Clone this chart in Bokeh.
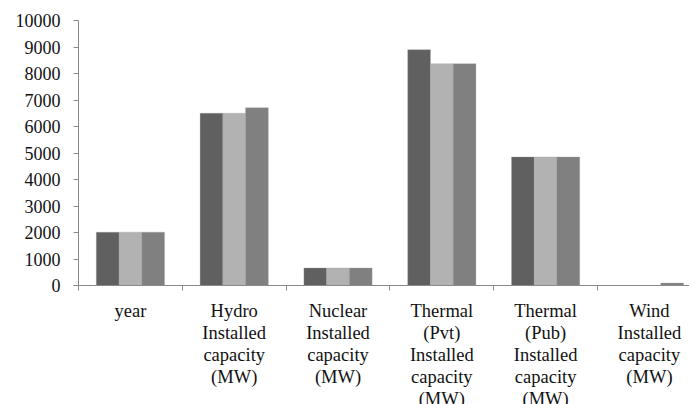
from bokeh.plotting import figure
from bokeh.models import Range1d, FixedTicker, NumeralTickFormatter
from bokeh.embed import file_html
from bokeh.resources import INLINE

# Category labels (multi-line) and the three series of values
categories = [
    "year",
    "Hydro\nInstalled\ncapacity\n(MW)",
    "Nuclear\nInstalled\ncapacity\n(MW)",
    "Thermal\n(Pvt)\nInstalled\ncapacity\n(MW)",
    "Thermal\n(Pub)\nInstalled\ncapacity\n(MW)",
    "Wind\nInstalled\ncapacity\n(MW)",
]
series_1 = [2010, 6500, 660, 8900, 4850, 0]
series_2 = [2011, 6500, 660, 8370, 4850, 0]
series_3 = [2012, 6710, 660, 8370, 4850, 90]
y_ticks = list(range(0, 10001, 1000))

colors = ["#606060", "#b2b2b2", "#808080"]
axis_color = "#8a8a8a"
font = "'Liberation Serif', 'Times New Roman', serif"

centers = [i + 0.5 for i in range(len(categories))]
bar_w = 0.219
offsets = [-bar_w, 0.0, bar_w]

p = figure(
    width=689, height=411,
    x_range=Range1d(0, 5.886), y_range=Range1d(0, 10000),
    output_backend="svg", toolbar_location=None,
    min_border_left=78, min_border_right=0,
    min_border_top=20, min_border_bottom=119,
)
p.outline_line_color = None
p.xgrid.visible = False
p.ygrid.visible = False

for vals, off, col in zip([series_1, series_2, series_3], offsets, colors):
    p.vbar(x=[c + off for c in centers], top=vals, width=bar_w,
           fill_color=col, line_color="#9a9a9a", line_width=0.6, line_alpha=0.5)

# x axis: labels at category centres, short ticks at category boundaries
xa = p.xaxis[0]
xa.ticker = FixedTicker(ticks=centers, minor_ticks=list(range(len(categories) + 1)))
xa.major_label_overrides = {c: lab for c, lab in zip(centers, categories)}
xa.major_tick_line_color = None
xa.minor_tick_in = 0
xa.minor_tick_out = 5
xa.minor_tick_line_color = axis_color
xa.axis_line_color = axis_color
xa.major_label_text_font = font
xa.major_label_text_font_size = "18.5px"
xa.major_label_text_line_height = 1.1
xa.major_label_text_color = "#111111"
xa.major_label_standoff = 9
xa.major_label_orientation = "horizontal"

ya = p.yaxis[0]
ya.ticker = FixedTicker(ticks=y_ticks)
ya.formatter = NumeralTickFormatter(format="0")
ya.minor_tick_line_color = None
ya.major_tick_in = 0
ya.major_tick_out = 5
ya.major_tick_line_color = axis_color
ya.axis_line_color = axis_color
ya.major_label_text_font = font
ya.major_label_text_font_size = "18px"
ya.major_label_text_color = "#111111"
ya.major_label_standoff = 13

open("out.html", "w").write(file_html(p, INLINE))
